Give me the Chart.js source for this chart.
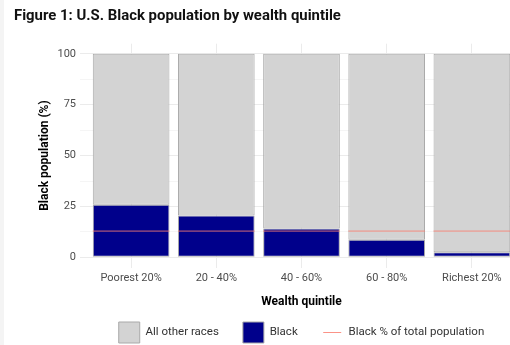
<!DOCTYPE html>
<html>
<head>
<meta charset="utf-8">
<script src="https://cdn.jsdelivr.net/npm/chart.js@4"></script>
<style>
  html, body { margin: 0; padding: 0; width: 510px; height: 345px; overflow: hidden; background: #f4f4f4; }
  #panel { position: absolute; left: 4px; top: 0; width: 506px; height: 345px; background: #fff; overflow: hidden; }
  #wealthChart { position: absolute; left: 0; top: 0; }
</style>
</head>
<body>
<div id="panel"><canvas id="wealthChart" width="519" height="353"></canvas></div>
<script>
// data
const quintiles = ['Poorest 20%', '20 - 40%', '40 - 60%', '60 - 80%', 'Richest 20%'];
const blackPct = [25.9, 20.5, 14.2, 8.6, 2.5];
const otherPct = [74.1, 79.5, 85.8, 91.4, 97.5];
const blackTotalPct = [12.9, 12.9, 12.9, 12.9, 12.9];
const yTicks = [0, 12.5, 25, 37.5, 50, 62.5, 75, 87.5, 100];

const lineLabel = 'Black % of total population';
const lineColor = 'rgba(250, 128, 114, 0.85)';

Chart.defaults.font.family = 'Roboto';

// ve key duong ke trong legend (legend mac dinh chi ve o vuong)
const legendLineKey = {
    id: 'legendLineKey',
    afterDraw(chart) {
        const lg = chart.legend;
        const i = lg.legendItems.findIndex(it => it.text === lineLabel);
        const hb = lg.legendHitBoxes[i];
        if (!hb) return;
        const bw = lg.options.labels.boxWidth;
        const cy = hb.top + lg.options.labels.boxHeight / 2;
        const ctx = chart.ctx;
        ctx.save();
        ctx.strokeStyle = lineColor;
        ctx.lineWidth = 1;
        ctx.beginPath();
        ctx.moveTo(hb.left + 1.5, cy);
        ctx.lineTo(hb.left + bw - 1.5, cy);
        ctx.stroke();
        ctx.restore();
    }
};

const halfBar = (ctx) => {
    const x = ctx.chart.scales.x;
    return x.getPixelForValue(0.45) - x.getPixelForValue(0);
};

new Chart(document.getElementById('wealthChart'), {
    type: 'bar',
    data: {
        datasets: [
            {
                label: 'All other races',
                data: quintiles.map((q, i) => ({ x: i, y: otherPct[i] })),
                backgroundColor: '#d3d3d3',
                borderColor: '#a9a9a9',
                borderWidth: 1,
                borderSkipped: false,
                barPercentage: 0.9,
                categoryPercentage: 1,
                order: 2
            },
            {
                label: 'Black',
                data: quintiles.map((q, i) => ({ x: i, y: blackPct[i] })),
                backgroundColor: '#00008b',
                borderColor: '#a9a9a9',
                borderWidth: 1,
                borderSkipped: false,
                barPercentage: 0.9,
                categoryPercentage: 1,
                order: 1
            },
            {
                type: 'line',
                label: lineLabel,
                data: quintiles.map((q, i) => ({ x: i, y: blackTotalPct[i] })),
                showLine: false,
                pointStyle: 'line',
                pointRadius: halfBar,
                pointHoverRadius: halfBar,
                pointBorderColor: lineColor,
                pointBorderWidth: 1,
                order: 0
            }
        ]
    },
    options: {
        responsive: false,
        animation: false,
        layout: { padding: { left: 10, right: 0, top: 0, bottom: 0 } },
        scales: {
            x: {
                type: 'linear',
                min: -0.6,
                max: 4.6,
                offset: false,
                stacked: true,
                afterBuildTicks: s => { s.ticks = quintiles.map((q, i) => ({ value: i })); },
                ticks: {
                    callback: v => quintiles[v],
                    padding: 4,
                    color: '#4d4d4d',
                    font: { size: 11 },
                    autoSkip: false,
                    maxRotation: 0
                },
                grid: { color: '#ebebeb', drawTicks: false, offset: false },
                border: { display: false },
                title: {
                    display: true,
                    text: 'Wealth quintile',
                    color: '#000',
                    font: { size: 12, weight: 'bold' },
                    padding: { top: 6.1, bottom: -11.2 }
                }
            },
            y: {
                min: -5,
                max: 105,
                stacked: true,
                afterBuildTicks: s => { s.ticks = yTicks.map(v => ({ value: v })); },
                afterFit: s => { s.width = 66; },
                ticks: {
                    callback: v => (v % 25 === 0 ? v : ''),
                    padding: 4,
                    color: '#4d4d4d',
                    font: { size: 11 }
                },
                grid: {
                    color: c => (c.tick && c.tick.value % 25 === 0 ? '#ebebeb' : '#f5f5f5'),
                    drawTicks: false
                },
                border: { display: false },
                title: {
                    display: true,
                    text: 'Black population (%)',
                    color: '#000',
                    font: { size: 12, weight: 'bold' },
                    padding: { top: 24, bottom: 0 }
                }
            }
        },
        plugins: {
            title: {
                display: true,
                text: 'Figure 1: U.S. Black population by wealth quintile',
                align: 'start',
                color: '#111',
                font: { size: 14.9, weight: 'bold' },
                padding: { top: 7, bottom: 18.8 }
            },
            legend: {
                position: 'bottom',
                fullSize: false,
                labels: {
                    boxWidth: 21,
                    boxHeight: 21,
                    padding: 24,
                    color: '#333',
                    font: { size: 11.5 },
                    generateLabels: chart => chart.data.datasets.map((ds, i) => ({
                        text: ds.label,
                        fillStyle: ds.type === 'line' ? 'rgba(0,0,0,0)' : ds.backgroundColor,
                        strokeStyle: ds.type === 'line' ? 'rgba(0,0,0,0)' : ds.borderColor,
                        lineWidth: ds.type === 'line' ? 0 : 1,
                        fontColor: '#333',
                        datasetIndex: i,
                        hidden: false
                    }))
                }
            },
            tooltip: { enabled: false }
        }
    },
    plugins: [legendLineKey]
});
</script>
</body>
</html>
